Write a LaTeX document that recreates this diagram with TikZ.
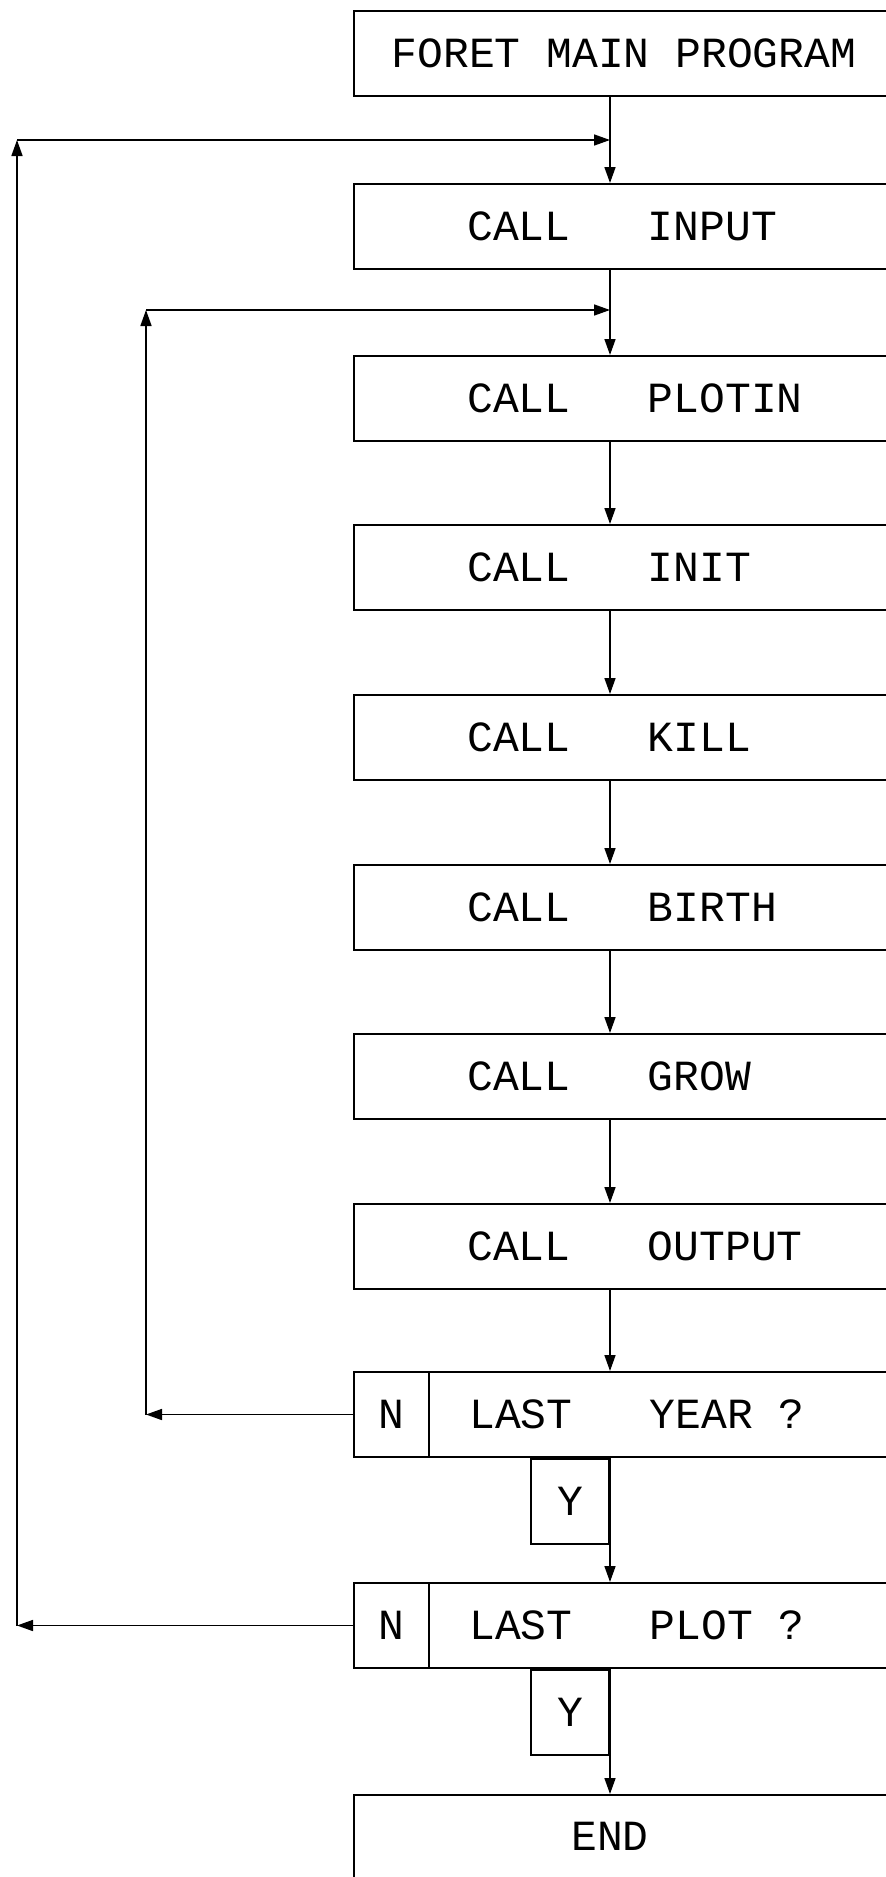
\documentclass[tikz,border=0pt]{standalone}
\usepackage{fontspec}
\setmainfont{Liberation Mono}
\usetikzlibrary{arrows.meta}
\begin{document}
\begin{tikzpicture}[x=1pt,y=-1pt,
  box/.style={draw, line width=2pt, minimum width=540pt, minimum height=85pt, inner sep=0pt, anchor=north west},
  lbl/.style={inner sep=0pt, font=\fontsize{43}{50}\selectfont},
  nbox/.style={draw, line width=2pt, minimum width=75pt, minimum height=85pt, inner sep=0pt, font=\fontsize{43}{50}\selectfont, anchor=north west},
  ybox/.style={draw, line width=1.7pt, minimum width=78pt, minimum height=85pt, inner sep=0pt, font=\fontsize{43}{50}\selectfont, anchor=north east},
  arr/.style={line width=1.6pt, -{Triangle[length=16pt,width=11pt]}}]
\useasboundingbox (0,0) rectangle (886,1877);
\clip (0,0) rectangle (886,1877);
\fill[white] (0,0) rectangle (886,1877);
% boxes
\node[box] (b0) at (353,10) {};
\node[box] (b1) at (353,183) {};
\node[box] (b2) at (353,355) {};
\node[box] (b3) at (353,524) {};
\node[box] (b4) at (353,694) {};
\node[box] (b5) at (353,864) {};
\node[box] (b6) at (353,1033) {};
\node[box] (b7) at (353,1203) {};
\node[box] (b8) at (353,1371) {};
\node[box] (b9) at (353,1582) {};
\node[box, minimum height=120pt] (b10) at (353,1794) {};
% texts
\node[lbl] (t0) at (b0.center) {FORET MAIN PROGRAM};
\node[lbl, anchor=west, xshift=114pt] (t1) at (b1.west) {CALL~~~INPUT};
\node[lbl, anchor=west, xshift=114pt] (t2) at (b2.west) {CALL~~~PLOTIN};
\node[lbl, anchor=west, xshift=114pt] (t3) at (b3.west) {CALL~~~INIT};
\node[lbl, anchor=west, xshift=114pt] (t4) at (b4.west) {CALL~~~KILL};
\node[lbl, anchor=west, xshift=114pt] (t5) at (b5.west) {CALL~~~BIRTH};
\node[lbl, anchor=west, xshift=114pt] (t6) at (b6.west) {CALL~~~GROW};
\node[lbl, anchor=west, xshift=114pt] (t7) at (b7.west) {CALL~~~OUTPUT};
\node[lbl, anchor=west, xshift=116pt] (t8) at (b8.west) {LAST~~~YEAR ?};
\node[lbl, anchor=west, xshift=116pt] (t9) at (b9.west) {LAST~~~PLOT ?};
\node[lbl] (t10) at (610,1836) {END};
% N and Y boxes
\node[nbox] (n1) at (b8.north west) {N};
\node[nbox] (n2) at (b9.north west) {N};
\coordinate (cx) at (610,0);
\node[ybox] (y1) at (b8.south -| cx) {Y};
\node[ybox] (y2) at (b9.south -| cx) {Y};
% main flow
\draw[arr] (b0.south -| cx) -- (b1.north -| cx);
\draw[arr] (b1.south -| cx) -- (b2.north -| cx);
\draw[arr] (b2.south -| cx) -- (b3.north -| cx);
\draw[arr] (b3.south -| cx) -- (b4.north -| cx);
\draw[arr] (b4.south -| cx) -- (b5.north -| cx);
\draw[arr] (b5.south -| cx) -- (b6.north -| cx);
\draw[arr] (b6.south -| cx) -- (b7.north -| cx);
\draw[arr] (b7.south -| cx) -- (b8.north -| cx);
\draw[arr] (b8.south -| cx) -- (b9.north -| cx);
\draw[arr] (b9.south -| cx) -- (b10.north -| cx);
% loops
\coordinate (j1) at (610,140);
\coordinate (j2) at (610,310);
\coordinate (o1) at (17,140);
\coordinate (o2) at (n2.west -| o1);
\coordinate (i1) at (146,310);
\coordinate (i2) at (n1.west -| i1);
\draw[arr] (n1.west) -- (i2);
\draw[arr] (i2) -- (i1);
\draw[arr] (i1) -- (j2);
\draw[arr] (n2.west) -- (o2);
\draw[arr] (o2) -- (o1);
\draw[arr] (o1) -- (j1);
\end{tikzpicture}
\end{document}
